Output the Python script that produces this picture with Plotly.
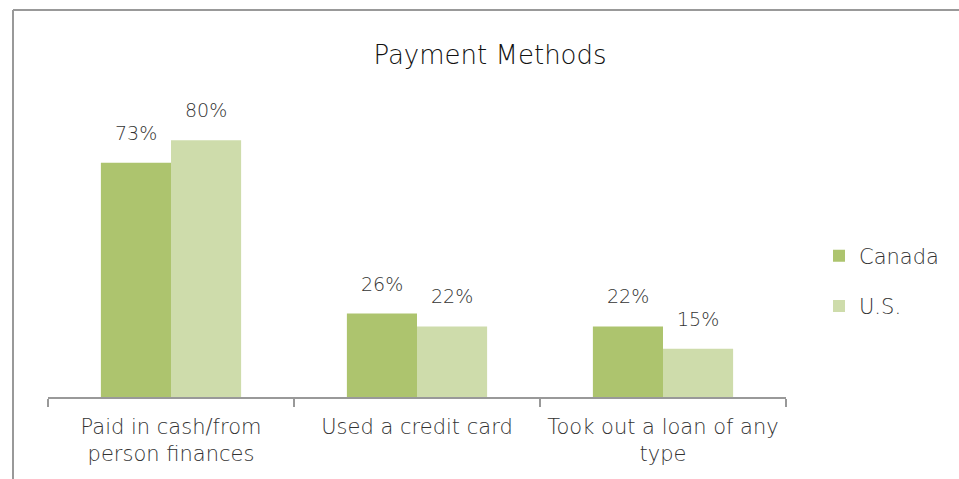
import plotly.graph_objects as go

categories = ["Paid in cash/from<br>person finances", "Used a credit card", "Took out a loan of any<br>type"]
canada = [73, 26, 22]
us = [80, 22, 15]
series_names = ["Canada", "U.S."]
colors = ["#adc46e", "#cedcab"]

FONT = "DejaVu Sans"
TXT = "#333333"

fig = go.Figure()
for name, vals, col, grp in [(series_names[0], canada, colors[0], "a"), (series_names[1], us, colors[1], "b")]:
    fig.add_trace(go.Bar(
        name=name, x=categories, y=vals, marker=dict(color=col, line=dict(width=0)),
        legendgroup=grp, hoverinfo="skip",
    ))

annotations = []
for vals, shift in [(canada, -35), (us, 35)]:
    for c, v in zip(categories, vals):
        annotations.append(dict(
            x=c, y=v, xref="x", yref="y", text=f"{v}%", showarrow=False,
            xshift=shift, yshift=17, yanchor="bottom",
            font=dict(family=FONT, size=19, color=TXT, weight=200),
        ))

# plot area: x 48..786, y 80..397
L, R, T, B = 48, 786, 80, 397
W, H = R - L, B - T
def px(x):
    return (x - L) / W
def py(y):
    return (B - y) / H

shapes = [
    dict(type="line", xref="paper", yref="paper", x0=px(13), x1=px(13), y0=py(10), y1=py(479),
         line=dict(color="#999999", width=2)),
    dict(type="line", xref="paper", yref="paper", x0=px(13), x1=px(959), y0=py(10), y1=py(10),
         line=dict(color="#999999", width=2)),
]

fig.update_layout(
    width=959, height=479,
    margin=dict(l=L, r=959 - R, t=T, b=479 - B),
    paper_bgcolor="white", plot_bgcolor="white",
    barmode="group", bargap=0.43, bargroupgap=0,
    title=dict(text="Payment Methods", x=(490) / 959, xanchor="center", y=1 - 55 / 479, yanchor="middle",
               font=dict(family=FONT, size=26, color="#111111", weight=200)),
    xaxis=dict(showline=True, linecolor="#999999", linewidth=1.5, ticks="outside", ticklen=8,
               tickcolor="#999999", tickwidth=1.5, tickson="boundaries", showgrid=False,
               ticklabelstandoff=10,
               tickfont=dict(family=FONT, size=21, color=TXT, weight=200), fixedrange=True),
    yaxis=dict(visible=False, range=[0, 98.75], fixedrange=True),
    legend=dict(x=px(819), xanchor="left", y=py(281), yanchor="middle",
                font=dict(family=FONT, size=21, color=TXT, weight=200),
                traceorder="grouped", tracegroupgap=20, itemwidth=30, bgcolor="rgba(0,0,0,0)"),
    annotations=annotations, shapes=shapes,
    showlegend=True,
)

fig.write_html("out.html")
